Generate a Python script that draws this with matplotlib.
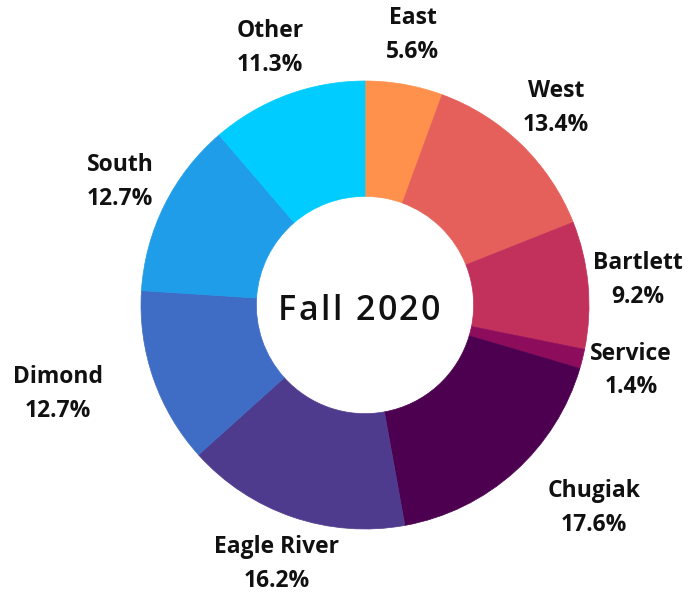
import matplotlib
matplotlib.use("Agg")
import matplotlib.pyplot as plt
import numpy as np
from matplotlib.textpath import TextToPath
from matplotlib.font_manager import FontProperties

categories = ["East", "West", "Bartlett", "Service", "Chugiak", "Eagle River", "Dimond", "South", "Other"]
values = [5.6, 13.4, 9.2, 1.4, 17.6, 16.2, 12.7, 12.7, 11.3]
colors = ["#FF914D", "#E5605A", "#C2305C", "#8E0C5C", "#4D0050", "#4F3B8E", "#3F6DC6", "#1F9DE8", "#00CCFF"]
center_label = "Fall 2020"

# layout (pixels)
W, H = 700, 592
cx, cy, R = 365, 305, 224
label_r = 1.223
label_shift_px = {"Dimond": -48, "Chugiak": 46}

fig = plt.figure(figsize=(W / 100, H / 100), dpi=100)
ax = fig.add_axes([0, 0, 1, 1])

wedges, _ = ax.pie(values, colors=colors, startangle=90, counterclock=False,
                   radius=1.0, wedgeprops=dict(width=0.515, linewidth=0.5),
                   frame=False)
for w, c in zip(wedges, colors):
    w.set_edgecolor(c)
ax.set_xlim(-cx / R, (W - cx) / R)
ax.set_ylim(-(H - cy) / R, cy / R)
ax.set_aspect("auto")
ax.axis("off")

total = sum(values)
cum = 0
for name, v in zip(categories, values):
    mid = (cum + v / 2) / total * 360
    cum += v
    ang = np.deg2rad(90 - mid)
    x = label_r * np.cos(ang) + label_shift_px.get(name, 0) / R
    y = label_r * np.sin(ang) + 0.5 / R
    ax.text(x, y, f"{name}\n{v:.1f}%",
            ha="center", va="center", fontsize=16.5, fontweight="bold",
            family="Open Sans", color="#111111", linespacing=1.55)

# center label with letter spacing
fp = FontProperties(family="Open Sans", size=24.5, weight="semibold")
ttp = TextToPath()
adv = [ttp.get_text_width_height_descent(ch, fp, ismath=False)[0] * 100 / 72
       for ch in center_label]
target_w = 162
track = (target_w - sum(adv)) / (len(center_label) - 1)
xpx = 359 - target_w / 2
for ch, a in zip(center_label, adv):
    ax.text((xpx - cx) / R, (cy - 320) / R, ch, ha="left", va="baseline",
            fontproperties=fp, color="#111111")
    xpx += a + track

fig.savefig("out.png", dpi=100)
